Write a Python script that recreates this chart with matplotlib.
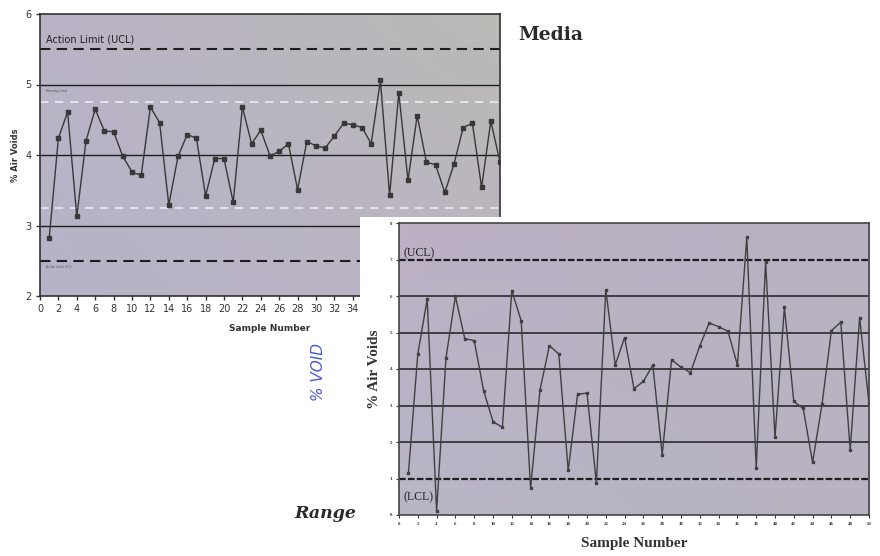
import numpy as np
import matplotlib
matplotlib.use("Agg")
import matplotlib.pyplot as plt
from matplotlib.patches import Rectangle
from matplotlib.colors import to_rgb

# sample numbers shared by both control charts
SAMPLES = list(range(1, 51))

# upper chart ("Media"): mean % air voids per sample
MEDIA = [2.82, 4.24, 4.61, 3.13, 4.20, 4.65, 4.34, 4.33, 3.98, 3.76,
         3.71, 4.68, 4.46, 3.29, 3.98, 4.29, 4.24, 3.42, 3.95, 3.95,
         3.33, 4.68, 4.16, 4.35, 3.99, 4.05, 4.16, 3.51, 4.19, 4.13,
         4.10, 4.27, 4.45, 4.43, 4.39, 4.16, 5.06, 3.43, 4.88, 3.64,
         4.56, 3.90, 3.86, 3.47, 3.87, 4.39, 4.45, 3.54, 4.48, 3.90]

# lower chart ("Range"): range of % air voids per sample
RANGE = [1.14, 4.41, 5.91, 0.11, 4.31, 5.99, 4.83, 4.78, 3.41, 2.56,
         2.40, 6.15, 5.32, 0.73, 3.43, 4.64, 4.41, 1.22, 3.31, 3.34,
         0.87, 6.17, 4.11, 4.86, 3.46, 3.66, 4.11, 1.65, 4.25, 4.05,
         3.90, 4.63, 5.26, 5.16, 5.03, 4.11, 7.61, 1.28, 6.93, 2.13,
         5.69, 3.11, 2.92, 1.44, 3.03, 5.05, 5.28, 1.78, 5.41, 3.06]

MEDIA_GRID = [3, 4, 5]
MEDIA_ACTION = [2.5, 5.5]
MEDIA_WARNING = [3.25, 4.75]
RANGE_GRID = [2, 3, 4, 5, 6]
RANGE_LIMITS = [1, 7]

W, H = 880, 556


def shade(ax, tl, tr, bl, br):
    # soft scanned-paper background for the plot area
    tl, tr, bl, br = [np.array(to_rgb(c)) for c in (tl, tr, bl, br)]
    u = np.linspace(0, 1, 64)[None, :, None]
    v = np.linspace(0, 1, 64)[:, None, None]
    top = tl * (1 - u) + tr * u
    bot = bl * (1 - u) + br * u
    img = top * (1 - v) + bot * v
    ax.imshow(img, extent=[0, 1, 0, 1], transform=ax.transAxes,
              aspect="auto", zorder=0, interpolation="bilinear")


def main():
    fig = plt.figure(figsize=(W / 100, H / 100), dpi=100)
    fig.patch.set_facecolor("white")

    # ---- upper chart: Media ----
    ax1 = fig.add_axes([40 / W, 260 / H, 460 / W, 282 / H])
    shade(ax1, "#bbb3c6", "#b9bab6", "#b6b3c9", "#bdb4c2")
    for y in MEDIA_GRID:
        ax1.axhline(y, color="#1e1e1e", lw=1.0, zorder=1)
    for y in MEDIA_ACTION:
        ax1.axhline(y, color="#1e1e1e", lw=1.5, dashes=(5, 3), zorder=1)
    for y in MEDIA_WARNING:
        ax1.axhline(y, color="#ececf2", lw=1.2, dashes=(5, 4), zorder=1)
    ax1.plot(SAMPLES, MEDIA, color="#383838", lw=1.0, marker="s", ms=2.2, zorder=3)
    ax1.text(0.6, 5.6, "Action Limit (UCL)", fontsize=7, color="#222", zorder=4)
    ax1.text(0.6, 4.9, "Warning Limit", fontsize=2.2, color="#555", zorder=4)
    ax1.text(0.6, 2.4, "Action Limit (LCL)", fontsize=2.2, color="#555", zorder=4)

    ax1.set_xlim(0, 50)
    ax1.set_ylim(2, 6)
    ax1.set_xticks(range(0, 51, 2))
    ax1.set_yticks([2, 3, 4, 5, 6])
    ax1.tick_params(direction="out", length=3, width=1, labelsize=7,
                    colors="#333", pad=3)
    for s in ax1.spines.values():
        s.set_color("#333")
        s.set_linewidth(1.2)
    ax1.set_ylabel("% Air Voids", fontsize=6, fontweight="bold", color="#333", labelpad=4)
    ax1.set_xlabel("Sample Number", fontsize=6.5, fontweight="bold", color="#333", labelpad=7)

    # white card of the second scan lying over the first
    fig.add_artist(Rectangle((360 / W, 0), 520 / W, 339 / H,
                             transform=fig.transFigure, facecolor="white",
                             edgecolor="none", zorder=1))

    # ---- lower chart: Range ----
    ax2 = fig.add_axes([399 / W, 41 / H, 470 / W, 292 / H])
    ax2.set_zorder(2)
    shade(ax2, "#bdb1c5", "#b8b2c2", "#b8b6c6", "#b9b2c1")
    for y in RANGE_GRID:
        ax2.axhline(y, color="#1e1e1e", lw=1.1, zorder=1)
    for y in RANGE_LIMITS:
        ax2.axhline(y, color="#1e1e1e", lw=1.6, dashes=(3, 1), zorder=1)
    ax2.plot(SAMPLES, RANGE, color="#404040", lw=1.0, marker="s", ms=2.0, zorder=3)
    serif = "Liberation Serif"
    ax2.text(0.5, 7.1, "(UCL)", fontsize=8.5, family=serif, color="#222", zorder=4)
    ax2.text(0.5, 0.4, "(LCL)", fontsize=8.5, family=serif, color="#222", zorder=4)

    ax2.set_xlim(0, 50)
    ax2.set_ylim(0, 8)
    ax2.set_xticks(range(0, 51, 2))
    ax2.set_yticks(range(0, 9))
    ax2.tick_params(direction="out", length=2, width=0.8, labelsize=3.5,
                    colors="#333", pad=3)
    for lab in ax2.get_xticklabels() + ax2.get_yticklabels():
        lab.set_family(serif)
        lab.set_fontweight("bold")
    for s in ax2.spines.values():
        s.set_color("#444")
        s.set_linewidth(1.2)
    ax2.set_ylabel("% Air Voids", fontsize=11, fontweight="bold", family=serif,
                   color="#333", labelpad=6)
    ax2.set_xlabel("Sample Number", fontsize=11, fontweight="bold", family=serif,
                   color="#333", labelpad=8)

    # ---- page annotations ----
    fig.text(518 / W, 1 - 35 / H, "Media", fontsize=13.5, fontweight="bold",
             family="DejaVu Serif", color="#2a2a2a", va="center", ha="left")
    fig.text(294 / W, 1 - 513 / H, "Range", fontsize=12.5, fontweight="bold",
             style="italic", family="DejaVu Serif", color="#2a2a2a",
             va="center", ha="left")
    fig.text(318 / W, 1 - 372 / H, "% VOID", fontsize=11, rotation=90,
             style="italic", color="#4a5ad0", va="center", ha="center")

    fig.savefig("out.png", dpi=100)


if __name__ == "__main__":
    main()
